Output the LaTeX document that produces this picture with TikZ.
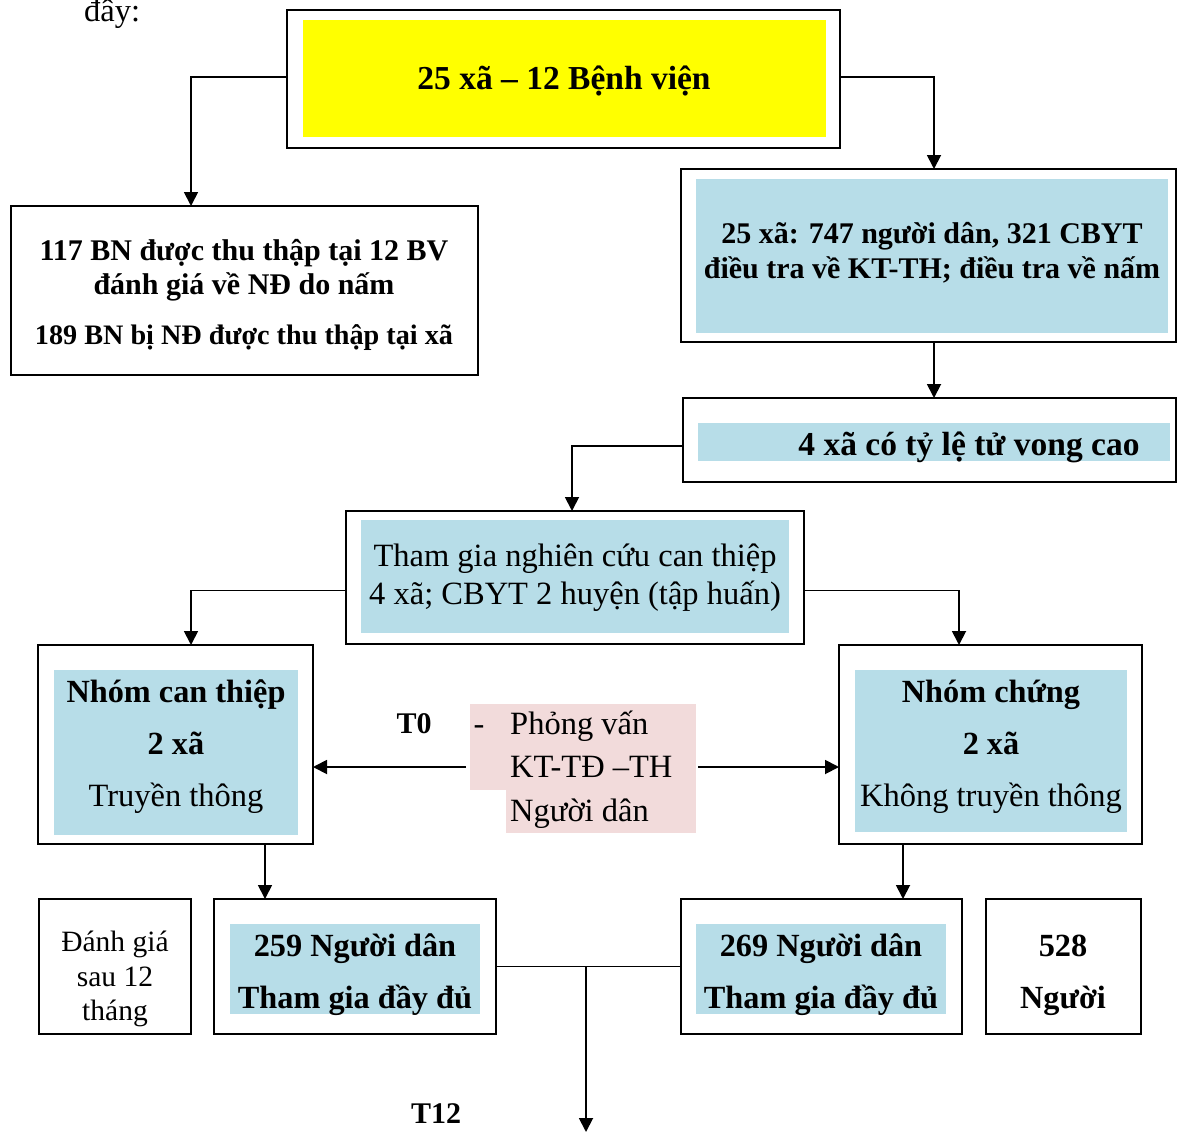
\documentclass[tikz,border=0pt]{standalone}
\usepackage{fontspec}
\setmainfont{Liberation Serif}
\usetikzlibrary{arrows.meta,calc}
\definecolor{lblue}{RGB}{183,221,232}
\definecolor{lpink}{RGB}{242,219,219}
\definecolor{pyellow}{RGB}{255,255,0}
\begin{document}
\begin{tikzpicture}[x=1pt,y=-1pt,
 outer/.style={draw,line width=2pt,inner sep=0pt,outer sep=0pt},
 fillbox/.style={inner sep=0pt,outer sep=0pt},
 arr/.style={line width=1.8pt,-{Triangle[length=14pt,width=14pt]}},
 txt/.style={anchor=base,inner sep=0pt,font=\fontsize{32.5}{38}\selectfont},
 btxt/.style={anchor=base,inner sep=0pt,font=\fontsize{32.3}{38}\selectfont\bfseries},
 bsmall/.style={anchor=base,inner sep=0pt,font=\fontsize{30}{36}\selectfont\bfseries},
 bnarrow/.style={anchor=base,inner sep=0pt,font=\fontsize{28.2}{36}\selectfont\bfseries},
 bbig/.style={anchor=base,inner sep=0pt,font=\fontsize{33.5}{38}\selectfont\bfseries},
 stxt/.style={anchor=base,inner sep=0pt,font=\fontsize{29.5}{34}\selectfont}]
\useasboundingbox (0,0) rectangle (1177,1132);

% header text
\node[txt,anchor=base west] (intro) at (84,22) {đây:};

% top box
\node[outer,minimum width=553pt,minimum height=138pt] (top) at (563.5,79) {};
\node[fillbox,fill=pyellow,minimum width=523pt,minimum height=117pt] (topin) at (564.5,78.5) {};
\node[bbig] (toptxt) at (564,89) {25 xã – 12 Bệnh viện};

% box 1
\node[outer,minimum width=467pt,minimum height=169pt] (box1) at (244.5,290.5) {};
\node[bsmall] (b1a) at (244,260) {117 BN được thu thập tại 12 BV};
\node[bsmall] (b1b) at (244,294) {đánh giá về NĐ do nấm};
\node[bnarrow] (b1c) at (244,344) {189 BN bị NĐ được thu thập tại xã};

% box 2
\node[outer,minimum width=495pt,minimum height=173pt] (box2) at (928.5,255.5) {};
\node[fillbox,fill=lblue,minimum width=472pt,minimum height=154pt] (box2in) at (932,256) {};
\node[bsmall] (b2a) at (932,243) {25 xã: 747 người dân, 321 CBYT};
\node[bsmall] (b2b) at (932,278) {điều tra về KT-TH; điều tra về nấm};

% box 3
\node[outer,minimum width=493pt,minimum height=84pt] (box3) at (929.5,440) {};
\node[fillbox,fill=lblue,minimum width=472pt,minimum height=38pt] (box3in) at (934,442) {};
\node[bbig] (b3a) at (969,455) {4 xã có tỷ lệ tử vong cao};

% box 4
\node[outer,minimum width=458pt,minimum height=133pt] (box4) at (575,577.5) {};
\node[fillbox,fill=lblue,minimum width=428pt,minimum height=113pt] (box4in) at (575,576.5) {};
\node[txt] (b4a) at (575,566) {Tham gia nghiên cứu can thiệp};
\node[txt] (b4b) at (575,604) {4 xã; CBYT 2 huyện (tập huấn)};

% box 5
\node[outer,minimum width=275pt,minimum height=199pt] (box5) at (175.5,744.5) {};
\node[fillbox,fill=lblue,minimum width=244pt,minimum height=165pt] (box5in) at (176,752.5) {};
\node[btxt] (b5a) at (176,702) {Nhóm can thiệp};
\node[btxt] (b5b) at (176,754) {2 xã};
\node[txt] (b5c) at (176,806) {Truyền thông};

% box 6
\node[outer,minimum width=303pt,minimum height=199pt] (box6) at (990.5,744.5) {};
\node[fillbox,fill=lblue,minimum width=272pt,minimum height=162pt] (box6in) at (991,751) {};
\node[btxt] (b6a) at (991,702) {Nhóm chứng};
\node[btxt] (b6b) at (991,754) {2 xã};
\node[txt] (b6c) at (991,806) {Không truyền thông};

% interview (pink)
\fill[lpink] (470,704) rectangle (696,790);
\fill[lpink] (506,790) rectangle (696,833);
\node[inner sep=0pt,outer sep=0pt,minimum width=232pt,minimum height=129pt] (interview) at (582,767) {};
\node[txt] (dash) at (479,734) {-};
\node[txt,anchor=base west] (pv1) at (510,734) {Phỏng vấn};
\node[txt,anchor=base west] (pv2) at (510,777) {KT-TĐ –TH};
\node[txt,anchor=base west] (pv3) at (510,821) {Người dân};
\node[bsmall] (t0) at (414,733) {T0};

% bottom row
\node[outer,minimum width=152pt,minimum height=135pt] (box7) at (115,966.5) {};
\node[stxt] (b7a) at (115,951) {Đánh giá};
\node[stxt] (b7b) at (115,986) {sau 12};
\node[stxt] (b7c) at (115,1020) {tháng};

\node[outer,minimum width=282pt,minimum height=135pt] (box8) at (355,966.5) {};
\node[fillbox,fill=lblue,minimum width=250pt,minimum height=90pt] (box8in) at (355,969) {};
\node[btxt] (b8a) at (355,956) {259 Người dân};
\node[btxt] (b8b) at (355,1008) {Tham gia đầy đủ};

\node[outer,minimum width=281pt,minimum height=135pt] (box9) at (821.5,966.5) {};
\node[fillbox,fill=lblue,minimum width=250pt,minimum height=90pt] (box9in) at (821,969) {};
\node[btxt] (b9a) at (821,956) {269 Người dân};
\node[btxt] (b9b) at (821,1008) {Tham gia đầy đủ};

\node[outer,minimum width=155pt,minimum height=135pt] (box10) at (1063.5,966.5) {};
\node[btxt] (b10a) at (1063,956) {528};
\node[btxt] (b10b) at (1063,1008) {Người};

\node[bsmall] (t12) at (436,1123) {T12};
\coordinate (t12end) at (586,1132);

% connectors
\draw[arr] ($(top.west)+(0,-2)$) -| ($(box1.north west)+(180,0)$);
\draw[arr] ($(top.east)+(0,-2)$) -| ($(box2.north west)+(253,0)$);
\draw[arr] ($(box2.south west)+(253,0)$) -- ($(box3.north west)+(251,0)$);
\draw[arr] ($(box3.west)+(0,6)$) -| ($(box4.north west)+(226,0)$);
\draw[arr] ($(box4.west)+(0,13)$) -| ($(box5.north west)+(153,0)$);
\draw[arr] ($(box4.east)+(0,13)$) -| ($(box6.north west)+(120,0)$);
\draw[arr] (interview.west) -- (interview.west -| box5.east);
\draw[arr] (interview.east) -- (interview.east -| box6.west);
\draw[arr] ($(box5.south west)+(227,0)$) -- ($(box8.north west)+(51,0)$);
\draw[arr] ($(box6.south west)+(64,0)$) -- ($(box9.north west)+(222,0)$);
\draw[line width=1.8pt] (box8.east) -- (box9.west);
\draw[arr] (box8.east -| t12end) -- (t12end);
\end{tikzpicture}
\end{document}
